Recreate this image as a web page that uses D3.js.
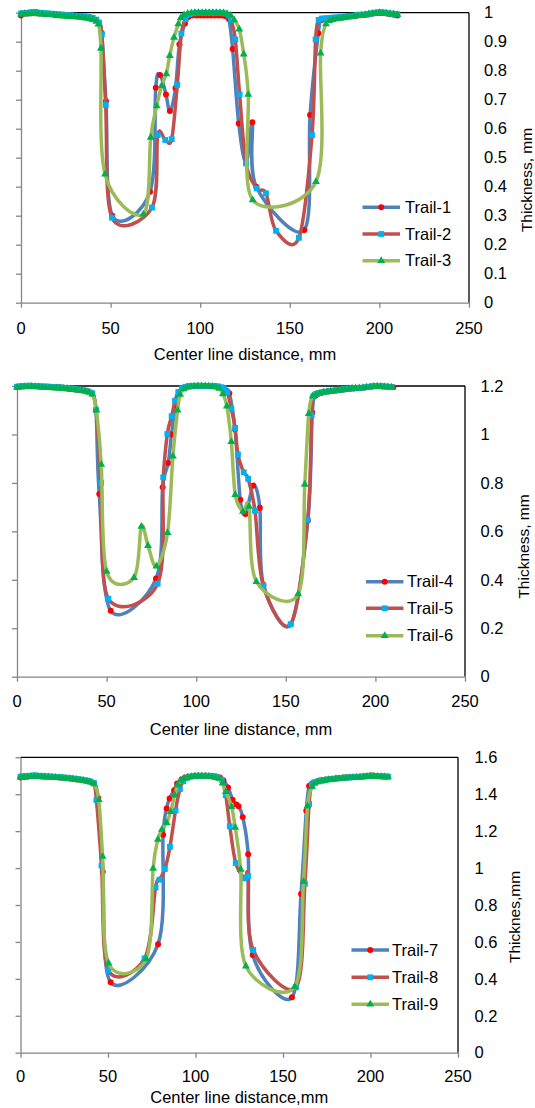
<!DOCTYPE html>
<html>
<head>
<meta charset="utf-8">
<script src="https://cdn.jsdelivr.net/npm/d3@7"></script>
<style>
  html, body { margin: 0; padding: 0; background: #fff; }
  svg { display: block; }
  text { font-family: "Liberation Sans", Arial, Helvetica, sans-serif; fill: #000; }
</style>
</head>
<body>
<svg id="chart" width="535" height="1108"></svg>
<script>
// ---------- shared ticks ----------
const xTicks = [0, 50, 100, 150, 200, 250];
const yTicksA = [0, 0.1, 0.2, 0.3, 0.4, 0.5, 0.6, 0.7, 0.8, 0.9, 1];
const yTicksB = [0, 0.2, 0.4, 0.6, 0.8, 1, 1.2];
const yTicksC = [0, 0.2, 0.4, 0.6, 0.8, 1, 1.2, 1.4, 1.6];

const legendA = ["Trail-1", "Trail-2", "Trail-3"];
const legendB = ["Trail-4", "Trail-5", "Trail-6"];
const legendC = ["Trail-7", "Trail-8", "Trail-9"];

// ---------- thickness profiles: [distance mm, thickness mm] ----------
const trail1 = [
 [0,0.99],[2,0.996],[4,0.997],[6,0.998],[8,0.998],[10,0.997],[12,0.996],[14,0.995],[16,0.995],[18,0.994],[20,0.993],[22,0.993],[24,0.992],[26,0.991],[28,0.99],[30,0.989],[32,0.988],[34,0.987],[36,0.986],[38,0.984],[40,0.981],[42,0.975],[43.5,0.965],
 [45,0.93],[47.4,0.695],[51,0.3],[72,0.383],[75.2,0.741],[77.6,0.785],[80.9,0.718],[83.1,0.661],[86.2,0.74],[88.4,0.891],[91.5,0.963],[93.5,0.985],
 [96,0.99],[98,0.99],[100,0.99],[102,0.99],[104,0.99],[106,0.99],[108,0.99],[110,0.99],[112,0.99],[114,0.988],[116,0.978],
 [118.1,0.875],[121.5,0.618],[125.6,0.48],[129.1,0.622],[131.3,0.4],[158.1,0.251],[161.3,0.647],[165.9,0.929],[167.8,0.975],
 [170,0.978],[172,0.98],[174,0.981],[176,0.982],[178,0.983],[180,0.984],[182,0.986],[184,0.987],[186,0.988],[188,0.99],[190,0.991],[192,0.992],[194,0.994],[196,0.996],[198,0.998],[200,0.999],[202,0.999],[204,0.997],[206,0.995],[208,0.993],[210,0.99]
];
const trail2 = [
 [0,0.997],[2,0.999],[4,1.0],[6,1.002],[8,1.003],[10,1.0],[12,0.999],[14,0.998],[16,0.997],[18,0.996],[20,0.995],[22,0.994],[24,0.993],[26,0.992],[28,0.991],[30,0.99],[32,0.989],[34,0.988],[36,0.987],[38,0.985],[40,0.982],[42,0.976],[43.5,0.966],
 [45.1,0.925],[47.3,0.682],[50.8,0.293],[73.1,0.328],[76.3,0.578],[80.5,0.561],[84.1,0.564],[87.2,0.751],[89.5,0.928],[91.9,0.978],
 [94,0.995],[96,0.998],[98,1.0],[100,1.0],[102,1.0],[104,1.0],[106,1.0],[108,1.0],[110,1.0],[112,1.0],[114,0.998],[116,0.99],
 [117.2,0.975],[119.6,0.908],[122,0.718],[125.6,0.48],[131.5,0.394],[136.7,0.377],[142.3,0.248],[155.1,0.224],[162.4,0.578],[164.4,0.908],[166.1,0.975],
 [168,0.98],[170,0.981],[172,0.982],[174,0.983],[176,0.984],[178,0.985],[180,0.986],[182,0.988],[184,0.989],[186,0.99],[188,0.992],[190,0.993],[192,0.994],[194,0.996],[196,0.998],[198,1.0],[200,1.002],[202,1.001],[204,0.999],[206,0.997],[208,0.996],[210,0.995]
];
const trail3 = [
 [0,0.995],[2,0.996],[4,0.996],[6,0.997],[8,0.997],[10,0.996],[12,0.995],[14,0.994],[16,0.993],[18,0.992],[20,0.99],[22,0.989],[24,0.988],[26,0.987],[28,0.986],[30,0.985],[32,0.984],[34,0.983],[36,0.981],[38,0.979],[40,0.976],[42,0.97],[43.2,0.96],
 [44.6,0.877],[46.9,0.443],[68.3,0.305],[72.4,0.57],[75.7,0.678],[78.5,0.748],[81.1,0.789],[83,0.852],[85.4,0.915],[87.8,0.961],[89.2,0.983],
 [91,0.993],[93,0.997],[95,0.999],[97,1.0],[99,1.0],[101,1.0],[103,1.0],[105,1.0],[107,1.0],[109,1.0],[111,1.0],[113,0.999],[115,0.995],[117,0.99],
 [119,0.975],[121.8,0.943],[124.3,0.857],[126.8,0.718],[129.3,0.354],[164.6,0.417],[167.2,0.86],[170.2,0.961],
 [172,0.972],[174,0.976],[176,0.978],[178,0.98],[180,0.982],[182,0.984],[184,0.986],[186,0.988],[188,0.99],[190,0.991],[192,0.993],[194,0.995],[196,0.997],[198,0.998],[200,1.0],[202,0.999],[204,0.998],[206,0.996],[208,0.995],[210,0.993]
];

const trail4 = [
 [0,1.195],[2,1.197],[4,1.198],[6,1.199],[8,1.2],[10,1.199],[12,1.198],[14,1.197],[16,1.196],[18,1.196],[20,1.195],[22,1.196],[24,1.195],[26,1.193],[28,1.19],[30,1.188],[32,1.186],[34,1.184],[36,1.182],[38,1.18],[40,1.176],[42,1.168],
 [44.1,1.1],[45.9,0.754],[52.3,0.272],[77.6,0.405],[81.3,0.782],[84.4,0.882],[86.2,1.0],[88.5,1.12],[90.5,1.175],
 [92.5,1.19],[94.5,1.196],[96.5,1.198],[98.5,1.2],[100.5,1.2],[102.5,1.2],[104.5,1.2],[106.5,1.2],[108.5,1.199],[110.5,1.198],[112.5,1.195],[114.5,1.188],[116.5,1.18],
 [118.5,1.17],[121.7,1.02],[124.6,0.73],[127.6,0.672],[131.9,0.789],[135.5,0.697],[137.5,0.38],[152.7,0.215],[162.3,0.645],[164.8,1.09],[166.5,1.16],
 [168,1.168],[170,1.172],[172,1.175],[174,1.177],[176,1.179],[178,1.181],[180,1.183],[182,1.185],[184,1.187],[186,1.189],[188,1.19],[190,1.191],[192,1.192],[194,1.194],[196,1.196],[198,1.198],[200,1.2],[202,1.199],[204,1.198],[206,1.197],[208,1.196],[210,1.195]
];
const trail5 = [
 [0,1.197],[2,1.199],[4,1.2],[6,1.201],[8,1.201],[10,1.2],[12,1.199],[14,1.198],[16,1.198],[18,1.197],[20,1.196],[22,1.195],[24,1.194],[26,1.193],[28,1.191],[30,1.19],[32,1.188],[34,1.186],[36,1.184],[38,1.181],[40,1.177],[42,1.17],
 [44.1,1.102],[46.9,0.8],[51,0.322],[78.5,0.384],[81.6,0.823],[83.9,1.002],[86.3,1.075],[88.2,1.139],[90,1.175],
 [92,1.19],[94,1.197],[96,1.2],[98,1.2],[100,1.201],[102,1.201],[104,1.2],[106,1.2],[108,1.2],[110,1.2],[112,1.199],[114,1.195],[115.5,1.19],
 [117.4,1.175],[119.6,1.106],[121.7,1.027],[123.3,0.918],[126.5,0.844],[129,0.817],[132.8,0.685],[137.5,0.375],[152.7,0.217],[162.2,0.648],[164.4,1.079],[165.4,1.157],
 [167,1.168],[169,1.172],[171,1.175],[173,1.177],[175,1.179],[177,1.181],[179,1.183],[181,1.185],[183,1.187],[185,1.189],[187,1.19],[189,1.191],[191,1.192],[193,1.193],[195,1.195],[197,1.197],[199,1.199],[201,1.2],[203,1.199],[205,1.198],[207,1.197],[209,1.196]
];
const trail6 = [
 [0,1.195],[2,1.196],[4,1.197],[6,1.197],[8,1.198],[10,1.197],[12,1.196],[14,1.195],[16,1.194],[18,1.193],[20,1.192],[22,1.191],[24,1.19],[26,1.189],[28,1.188],[30,1.187],[32,1.185],[34,1.183],[36,1.181],[38,1.178],[40,1.174],[42,1.166],
 [44.3,1.1],[47,0.876],[50,0.434],[65.3,0.409],[69.4,0.62],[73.1,0.541],[77.8,0.456],[84,0.594],[87,0.91],[89.6,1.1],[91,1.165],
 [93,1.188],[95,1.195],[97,1.198],[99,1.199],[101,1.2],[103,1.2],[105,1.2],[107,1.199],[109,1.198],[111,1.196],[113,1.19],
 [114.9,1.167],[117.1,1.117],[119.6,0.97],[121.8,0.751],[126.1,0.682],[129.5,0.703],[133.6,0.392],[156.9,0.341],[160.6,0.794],[162.8,1.086],[165,1.158],
 [167,1.166],[169,1.17],[171,1.174],[173,1.176],[175,1.178],[177,1.18],[179,1.182],[181,1.184],[183,1.186],[185,1.188],[187,1.19],[189,1.191],[191,1.192],[193,1.193],[195,1.195],[197,1.196],[199,1.198],[201,1.199],[203,1.198],[205,1.197],[207,1.196],[209,1.195]
];

const trail7 = [
 [0,1.49],[2,1.493],[4,1.495],[6,1.497],[8,1.5],[10,1.498],[12,1.496],[14,1.495],[16,1.494],[18,1.493],[20,1.492],[22,1.49],[24,1.489],[26,1.487],[28,1.485],[30,1.483],[32,1.48],[34,1.478],[36,1.475],[38,1.472],[40,1.467],[42,1.458],
 [44.4,1.38],[47,0.98],[51.5,0.381],[78.6,0.588],[81.5,1.18],[83.5,1.323],[85.2,1.377],[87.8,1.422],[89.5,1.458],
 [92,1.48],[94,1.49],[96,1.495],[98,1.498],[100,1.5],[102,1.5],[104,1.5],[106,1.5],[108,1.5],[110,1.498],[112,1.495],[114,1.49],[116,1.475],
 [118.6,1.437],[121.2,1.37],[123.4,1.345],[124.6,1.335],[127,1.276],[130.1,1.075],[132.7,0.529],[155.1,0.3],[160.3,0.859],[163.3,1.31],[164.9,1.445],
 [167,1.46],[169,1.468],[171,1.474],[173,1.477],[175,1.48],[177,1.482],[179,1.484],[181,1.486],[183,1.488],[185,1.49],[187,1.491],[189,1.492],[191,1.493],[193,1.494],[195,1.495],[197,1.497],[199,1.5],[201,1.501],[203,1.499],[205,1.497],[207,1.496],[209,1.495]
];
const trail8 = [
 [0,1.495],[2,1.497],[4,1.498],[6,1.5],[8,1.502],[10,1.5],[12,1.498],[14,1.497],[16,1.496],[18,1.495],[20,1.494],[22,1.492],[24,1.491],[26,1.489],[28,1.487],[30,1.485],[32,1.482],[34,1.48],[36,1.477],[38,1.474],[40,1.469],[42,1.46],
 [43.4,1.368],[46.3,1.013],[50.2,0.448],[70.9,0.511],[77.2,0.895],[79.4,0.937],[82.5,0.995],[85.4,1.115],[88.6,1.312],[91.1,1.428],
 [93,1.47],[95,1.488],[97,1.495],[99,1.498],[101,1.5],[103,1.5],[105,1.5],[107,1.5],[109,1.498],[111,1.496],[113,1.49],[115,1.478],
 [117.3,1.395],[119.6,1.227],[123,1.027],[128,0.944],[130,0.957],[133,0.556],[157.4,0.354],[162.5,0.915],[164.9,1.347],[166.5,1.45],
 [168,1.465],[170,1.47],[172,1.474],[174,1.477],[176,1.48],[178,1.482],[180,1.484],[182,1.486],[184,1.488],[186,1.49],[188,1.491],[190,1.492],[192,1.493],[194,1.494],[196,1.496],[198,1.498],[200,1.5],[202,1.499],[204,1.498],[206,1.497],[208,1.496],[210,1.495]
];
const trail9 = [
 [0,1.492],[2,1.494],[4,1.495],[6,1.496],[8,1.497],[10,1.496],[12,1.495],[14,1.494],[16,1.493],[18,1.492],[20,1.49],[22,1.489],[24,1.488],[26,1.486],[28,1.484],[30,1.482],[32,1.479],[34,1.477],[36,1.474],[38,1.47],[40,1.465],[42,1.455],
 [44.7,1.37],[46.9,1.063],[50.3,0.485],[71.8,0.508],[75.8,0.998],[78.5,1.155],[80.8,1.209],[83.5,1.245],[85.8,1.305],[88.1,1.395],[89.7,1.449],
 [91.5,1.475],[93.5,1.486],[95.5,1.492],[97.5,1.495],[99.5,1.497],[101.5,1.498],[103.5,1.498],[105.5,1.497],[107.5,1.496],[109.5,1.494],[111.5,1.49],[113.5,1.485],[115.5,1.46],
 [117.4,1.413],[120.6,1.332],[122.7,1.22],[125.8,0.993],[128.8,0.469],[156.7,0.357],[161.7,0.926],[164,1.336],[166.5,1.44],
 [168,1.458],[170,1.466],[172,1.471],[174,1.475],[176,1.478],[178,1.48],[180,1.482],[182,1.484],[184,1.486],[186,1.488],[188,1.489],[190,1.49],[192,1.491],[194,1.493],[196,1.494],[198,1.496],[200,1.498],[202,1.497],[204,1.496],[206,1.495],[208,1.494],[210,1.493]
];

// ---------- series styles (line colour, marker kind, marker colour) ----------
const styles = [
  { line: "#4F81BD", marker: "circle",   fill: "#FF0000" },
  { line: "#C0504D", marker: "square",   fill: "#00B0F0" },
  { line: "#9BBB59", marker: "triangle", fill: "#00B050" }
];

// ---------- panel layout ----------
const panels = [
  { series: [trail1, trail2, trail3], names: legendA, yMax: 1, yTicks: yTicksA,
    left: 21, right: 469, top: 12.7, bottom: 302.7,
    xLabelY: 328.3, xTitleY: 354.3, xTitle: "Center line distance, mm",
    yLabelX: 484, yTitleX: 531.5, yTitleY: 180, yTitle: "Thickness, mm",
    legX1: 362.5, legX2: 400, legTextX: 405, legY: [207.3, 234, 260.7] },
  { series: [trail4, trail5, trail6], names: legendB, yMax: 1.2, yTicks: yTicksB,
    left: 17, right: 465, top: 386, bottom: 676.7,
    xLabelY: 701.7, xTitleY: 729, xTitle: "Center line distance, mm",
    yLabelX: 480.5, yTitleX: 528.5, yTitleY: 546.5, yTitle: "Thickness, mm",
    legX1: 366, legX2: 403.4, legTextX: 407, legY: [581.7, 608.3, 635.7] },
  { series: [trail7, trail8, trail9], names: legendC, yMax: 1.6, yTicks: yTicksC,
    left: 20.5, right: 458, top: 757.3, bottom: 1052.7,
    xLabelY: 1076, xTitleY: 1097.7, xTitle: "Center line distance,mm",
    yLabelX: 474.4, yTitleX: 520, yTitleY: 917, yTitle: "Thicknes,mm",
    legX1: 351.5, legX2: 389, legTextX: 392, legY: [950, 977.3, 1004.3] }
];

const svg = d3.select("#chart");
const FONT = 16.5;
const fmt = v => String(+v.toFixed(1));

const symbolFor = {
  circle: d3.symbol(d3.symbolCircle, 28),
  square: d3.symbol(d3.symbolSquare, 34),
  triangle: d3.symbol(d3.symbolTriangle, 27)
};

function addMarker(g, st, cx, cy) {
  g.append("path")
    .attr("d", symbolFor[st.marker]())
    .attr("transform", `translate(${cx},${cy})`)
    .attr("fill", st.fill)
    .attr("stroke", "none");
}

panels.forEach(p => {
  const x = d3.scaleLinear().domain([0, 250]).range([p.left, p.right]);
  const y = d3.scaleLinear().domain([0, p.yMax]).range([p.bottom, p.top]);
  const g = svg.append("g");

  // frame: black top and right edges
  g.append("line").attr("x1", p.left).attr("x2", p.right).attr("y1", p.top).attr("y2", p.top)
    .attr("stroke", "#000").attr("stroke-width", 1.3);
  g.append("line").attr("x1", p.right).attr("x2", p.right).attr("y1", p.top).attr("y2", p.bottom)
    .attr("stroke", "#000").attr("stroke-width", 1.3);

  // left value axis: ticks only
  const ax = g.append("g").attr("transform", `translate(${p.left},0)`)
    .call(d3.axisLeft(y).tickValues(p.yTicks).tickSize(5).tickSizeOuter(0).tickFormat(""));
  // bottom category axis
  const bx = g.append("g").attr("transform", `translate(0,${p.bottom})`)
    .call(d3.axisBottom(x).tickValues(xTicks).tickSize(5).tickSizeOuter(0).tickFormat(""));
  [ax, bx].forEach(a => {
    a.select(".domain").attr("stroke", "#868686").attr("stroke-width", 1.3);
    a.selectAll(".tick line").attr("stroke", "#868686").attr("stroke-width", 1.3);
  });

  // x tick labels
  g.selectAll(null).data(xTicks).enter().append("text")
    .attr("x", d => x(d)).attr("y", p.xLabelY).attr("dy", "0.35em")
    .attr("text-anchor", "middle").attr("font-size", FONT).text(d => d);

  // y tick labels on the right side
  g.selectAll(null).data(p.yTicks).enter().append("text")
    .attr("x", p.yLabelX).attr("y", d => y(d)).attr("dy", "0.35em")
    .attr("text-anchor", "start").attr("font-size", FONT).text(fmt);

  // axis titles
  g.append("text").attr("x", (p.left + p.right) / 2).attr("y", p.xTitleY).attr("dy", "0.35em")
    .attr("text-anchor", "middle").attr("font-size", FONT).text(p.xTitle);
  g.append("text").attr("transform", `translate(${p.yTitleX},${p.yTitleY}) rotate(-90)`)
    .attr("text-anchor", "middle").attr("font-size", 15.5).text(p.yTitle);

  // smoothed series lines with markers
  const lineGen = d3.line().x(d => x(d[0])).y(d => y(d[1])).curve(d3.curveCardinal.tension(0));
  p.series.forEach((data, i) => {
    const st = styles[i];
    const sg = g.append("g");
    sg.append("path").datum(data).attr("d", lineGen)
      .attr("fill", "none").attr("stroke", st.line).attr("stroke-width", 3.5)
      .attr("stroke-linejoin", "round").attr("stroke-linecap", "round");
    data.forEach(d => addMarker(sg, st, x(d[0]), y(d[1])));
  });

  // legend
  p.names.forEach((name, i) => {
    const st = styles[i];
    const ly = p.legY[i];
    const lg = g.append("g");
    lg.append("line").attr("x1", p.legX1).attr("x2", p.legX2).attr("y1", ly).attr("y2", ly)
      .attr("stroke", st.line).attr("stroke-width", 3.5);
    addMarker(lg, st, (p.legX1 + p.legX2) / 2, ly);
    lg.append("text").attr("x", p.legTextX).attr("y", ly).attr("dy", "0.35em")
      .attr("font-size", FONT).text(name);
  });
});
</script>
</body>
</html>
